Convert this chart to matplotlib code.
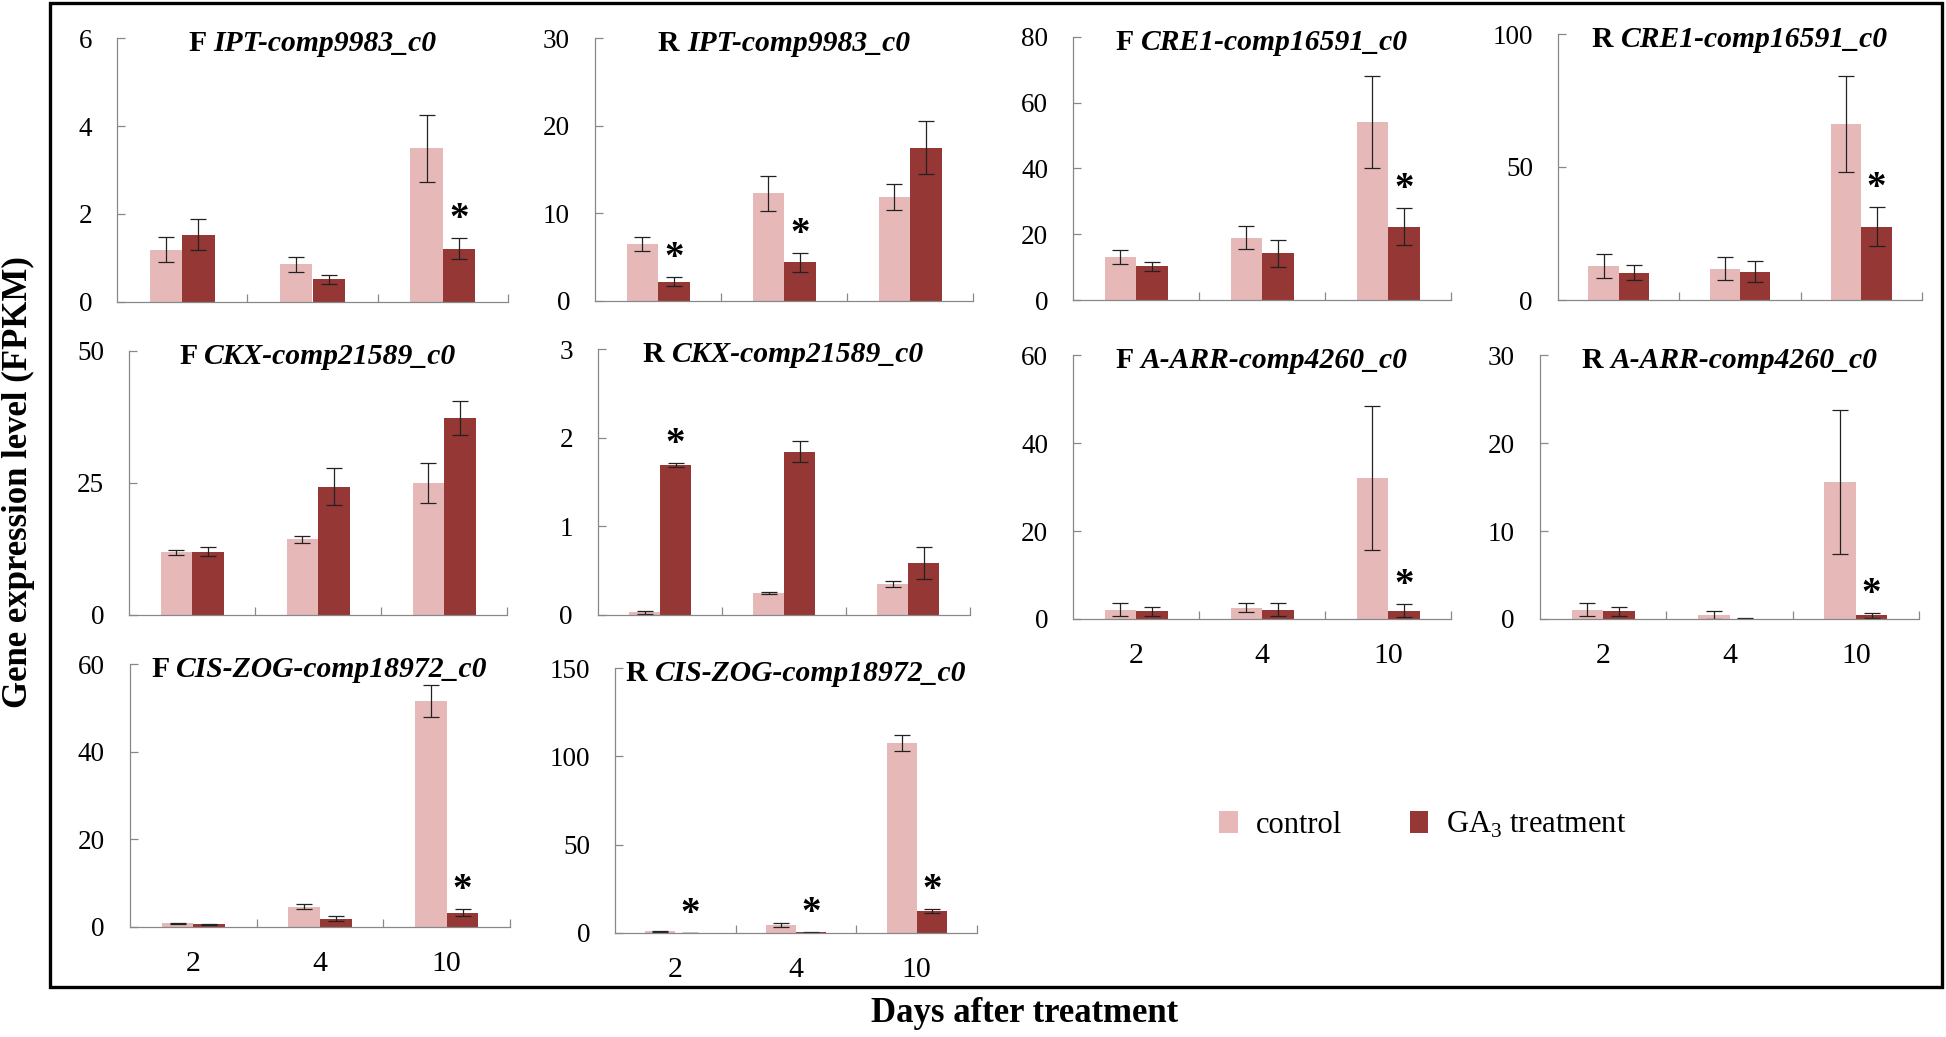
import numpy as np
import matplotlib
matplotlib.use("Agg")
from matplotlib import pyplot as plt
from matplotlib.patches import Patch, Rectangle

plt.rcParams['font.family'] = ['Liberation Serif', 'DejaVu Serif']
plt.rcParams['mathtext.fontset'] = 'custom'
plt.rcParams['mathtext.rm'] = 'Liberation Serif'

days = ['2', '4', '10']
prefixes = ['F', 'R', 'F', 'R', 'F', 'R', 'F', 'R', 'F', 'R']
genes = ['IPT-comp9983_c0', 'IPT-comp9983_c0', 'CRE1-comp16591_c0', 'CRE1-comp16591_c0',
         'CKX-comp21589_c0', 'CKX-comp21589_c0', 'A-ARR-comp4260_c0', 'A-ARR-comp4260_c0',
         'CIS-ZOG-comp18972_c0', 'CIS-ZOG-comp18972_c0']

ctrl_mean = [[1.19, 0.86, 3.49], [6.55, 12.3, 11.9], [13.0, 18.9, 54.1], [12.8, 11.8, 66.2],
             [11.9, 14.3, 25.0], [0.03, 0.25, 0.35], [2.1, 2.6, 32.1], [1.06, 0.49, 15.6],
             [0.84, 4.6, 51.5], [1.1, 4.5, 107.5]]
ctrl_err = [[0.28, 0.17, 0.77], [0.8, 2.0, 1.5], [2.1, 3.5, 13.9], [4.4, 4.3, 18.0],
            [0.45, 0.7, 3.7], [0.02, 0.01, 0.03], [1.5, 1.0, 16.4], [0.76, 0.45, 8.2],
            [0.15, 0.55, 3.6], [0.3, 1.2, 4.7]]
trt_mean = [[1.53, 0.52, 1.21], [2.2, 4.4, 17.5], [10.3, 14.2, 22.3], [10.3, 10.7, 27.6],
            [12.0, 24.3, 37.3], [1.69, 1.84, 0.59], [1.75, 2.1, 1.9], [0.87, 0.05, 0.42],
            [0.6, 1.9, 3.3], [0.1, 0.3, 12.3]]
trt_err = [[0.35, 0.1, 0.24], [0.5, 1.1, 3.0], [1.4, 4.1, 5.6], [2.8, 3.9, 7.3],
           [0.9, 3.5, 3.3], [0.02, 0.12, 0.18], [1.05, 1.5, 1.4], [0.5, 0.02, 0.3],
           [0.15, 0.5, 0.7], [0.05, 0.1, 1.1]]
# significance marks over the GA3 bars
stars = [[0, 0, 1], [1, 1, 0], [0, 0, 1], [0, 0, 1], [0, 0, 0],
         [1, 0, 0], [0, 0, 1], [0, 0, 1], [0, 0, 1], [1, 1, 1]]
yticks = [[0, 2, 4, 6], [0, 10, 20, 30], [0, 20, 40, 60, 80], [0, 50, 100], [0, 25, 50],
          [0, 1, 2, 3], [0, 20, 40, 60], [0, 10, 20, 30], [0, 20, 40, 60], [0, 50, 100, 150]]

c_ctrl = '#e6b9b8'
c_trt = '#953735'
W, H = 1946, 1037

# axes boxes in pixels: left, top, right, bottom
boxes = [(117, 38, 508, 302), (595, 38, 973, 301), (1073, 37, 1451, 300), (1558, 34, 1922, 300),
         (129, 351, 507, 615), (598, 349, 970, 615), (1073, 355, 1451, 619), (1540, 355, 1919, 619),
         (130, 664, 510, 927), (615, 668, 977, 933)]

fig = plt.figure(figsize=(W / 100, H / 100), dpi=100)
fig.add_artist(Rectangle((50 / W, 1 - 987 / H), (1942 - 50) / W, (987 - 3) / H,
                         transform=fig.transFigure, fill=False, lw=2.4, ec='black'))

x = np.arange(1, 4)
bw = 0.25
titles = []
for i in range(10):
    l, t, r, b = boxes[i]
    ax = fig.add_axes([l / W, 1 - b / H, (r - l) / W, (b - t) / H])
    ax.bar(x - bw / 2, ctrl_mean[i], bw, color=c_ctrl)
    ax.bar(x + bw / 2, trt_mean[i], bw, color=c_trt)
    ax.errorbar(x - bw / 2, ctrl_mean[i], yerr=ctrl_err[i], fmt='none', ecolor='#222222',
                elinewidth=0.9, capsize=6, capthick=0.9)
    ax.errorbar(x + bw / 2, trt_mean[i], yerr=trt_err[i], fmt='none', ecolor='#222222',
                elinewidth=0.9, capsize=6, capthick=0.9)
    for j in range(3):
        if stars[i][j]:
            ax.annotate('*', (x[j] + bw / 2, trt_mean[i][j] + trt_err[i][j]), xytext=(0, 0),
                        textcoords='offset points', ha='center', va='bottom',
                        fontsize=28, fontweight='bold')
    ax.set_xlim(0.5, 3.5)
    ax.set_ylim(0, yticks[i][-1])
    ax.set_yticks(yticks[i])
    ax.set_xticks([1.5, 2.5, 3.5])
    ax.set_xticklabels([])
    if i >= 6:
        ax.set_xticks(x, minor=True)
        ax.set_xticklabels(days, minor=True)
    ax.tick_params(axis='x', which='minor', length=0, pad=17, labelsize=21.5)
    ax.tick_params(axis='both', which='major', direction='in', length=6, width=0.9,
                   color='#888888', labelsize=19.5)
    ax.tick_params(axis='y', pad=18)
    for s in ['top', 'right']:
        ax.spines[s].set_visible(False)
    for s in ['left', 'bottom']:
        ax.spines[s].set_color('#888888')
        ax.spines[s].set_linewidth(0.9)
    t1 = ax.text(0.5, 0.95, prefixes[i] + ' ', transform=ax.transAxes, fontsize=21.3,
                 fontweight='bold', va='baseline', ha='left')
    t2 = ax.annotate(genes[i], xy=(1, 0), xycoords=t1, va='bottom', ha='left',
                     fontsize=21.3, fontweight='bold', fontstyle='italic')
    titles.append((ax, t1, t2))

# centre the two-part titles over their axes
fig.canvas.draw()
rend = fig.canvas.get_renderer()
for ax, t1, t2 in titles:
    w = t1.get_window_extent(rend).width + t2.get_window_extent(rend).width
    axw = ax.get_window_extent(rend).width
    t1.set_x(0.5 - w / 2 / axw)

fig.text(18 / W, 1 - 482 / H, 'Gene expression level (FPKM)', rotation=90, fontsize=25,
         fontweight='bold', ha='center', va='center')
fig.text(1025 / W, 1 - 1013 / H, 'Days after treatment', fontsize=25, fontweight='bold',
         ha='center', va='center')

handles = [Patch(facecolor=c_ctrl), Patch(facecolor=c_trt)]
fig.legend(handles, ['control', r'GA$_\mathregular{3}$ treatment'], loc='center',
           bbox_to_anchor=(1423 / W, 1 - 825 / H), ncol=2, frameon=False, fontsize=22,
           handlelength=0.6, handleheight=0.75, handletextpad=0.6, columnspacing=2.2)

fig.savefig('out.png', dpi=100)
